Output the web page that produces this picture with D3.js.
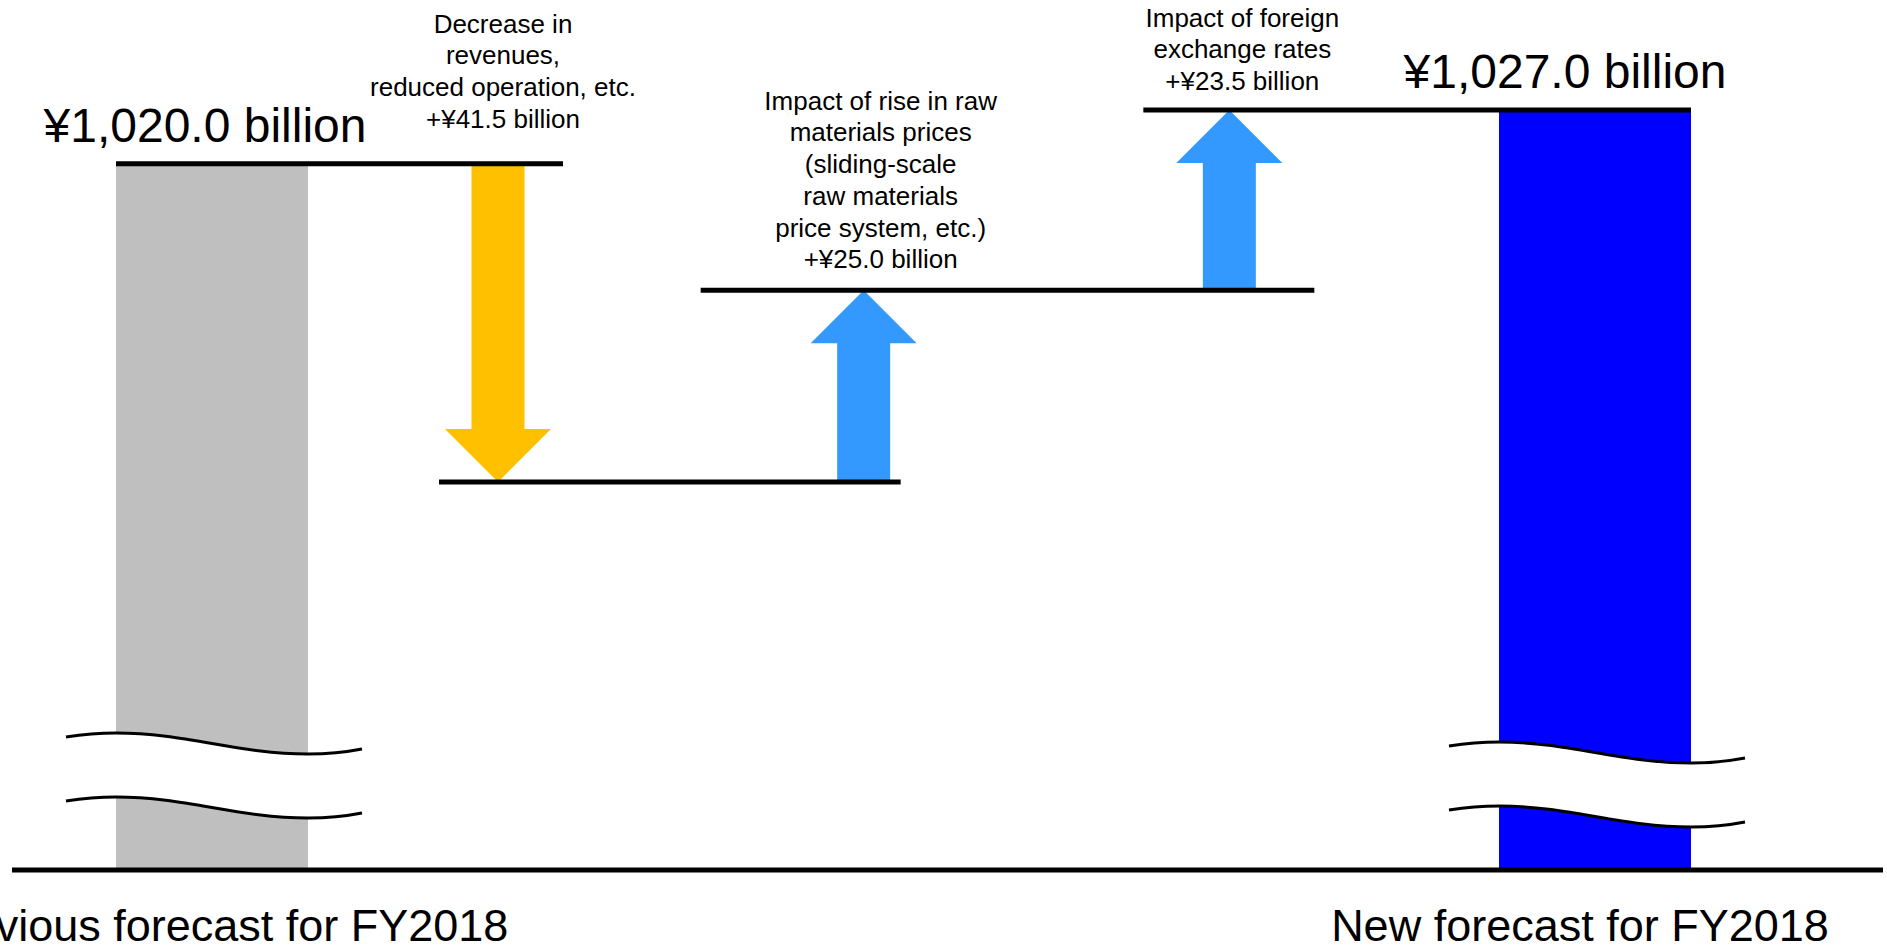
<!DOCTYPE html>
<html>
<head>
<meta charset="utf-8">
<script src="https://cdn.jsdelivr.net/npm/d3@7"></script>
<style>
  html, body { margin: 0; padding: 0; background: #fff; }
  svg { display: block; }
  text { font-family: "Liberation Sans", Arial, sans-serif; fill: #000; }
</style>
</head>
<body>
<svg id="chart" width="1887" height="947"></svg>
<script>
// ---------------- data ----------------
const categories = [
  "Previous forecast for FY2018",
  "Decrease in revenues, reduced operation, etc.",
  "Impact of rise in raw materials prices",
  "Impact of foreign exchange rates",
  "New forecast for FY2018"
];
const stepKinds = ["total", "delta", "delta", "delta", "total"];
const values = [1020.0, -41.5, 25.0, 23.5, 1027.0];   // ¥ billion
const totalLabels = ["¥1,020.0 billion", "¥1,027.0 billion"];
const stepLabels = [
  ["Decrease in", "revenues,", "reduced operation, etc.", "+¥41.5 billion"],
  ["Impact of rise in raw", "materials prices", "(sliding-scale", "raw materials", "price system, etc.)", "+¥25.0 billion"],
  ["Impact of foreign", "exchange rates", "+¥23.5 billion"]
];
const categoryLabels = ["Previous forecast for FY2018", "New forecast for FY2018"];

// ---------------- layout ----------------
const W = 1887, H = 947;
const baseY = 870;
const barW = 192;
const shaftW = 53, headW = 106, headL = 53;
const colors = { total0: "#BFBFBF", total1: "#0000FF", down: "#FFC000", up: "#3399FF" };
// connector extensions (left pad from step i, right pad past step i+1)
const connectorPads = [[96, 65], [59, 37], [163, 85], [86, 96]];
const annotationDx = [5, 17, 13];
const annotationGap = [36, 22, 20];
const totalLabelDx = [-7, -30];
const catLabelDx = [5, -15];
const breakOffsets = [137, 128]; // distance of break above baseline

const svg = d3.select("#chart");
svg.append("rect").attr("width", W).attr("height", H).attr("fill", "#fff");

const x = d3.scaleLinear().domain([0, 1, 4]).range([212, 498, 1595]);
const y = d3.scaleLinear().domain([978.5, 1027]).range([482, 110]);

// running levels
const steps = [];
let level = 0;
values.forEach((v, i) => {
  if (stepKinds[i] === "total") {
    steps.push({ i, kind: "total", start: v, end: v });
    level = v;
  } else {
    steps.push({ i, kind: "delta", start: level, end: level + v, v });
    level = level + v;
  }
});

const gBars = svg.append("g");
const gBreak = svg.append("g");
const gArrows = svg.append("g");
const gLines = svg.append("g");
const gText = svg.append("g");

// total bars
const totals = steps.filter(s => s.kind === "total");
totals.forEach((s, k) => {
  gBars.append("rect")
    .attr("x", x(s.i) - barW / 2)
    .attr("y", y(s.end))
    .attr("width", barW)
    .attr("height", baseY - y(s.end))
    .attr("fill", k === 0 ? colors.total0 : colors.total1);
});

// axis-break marks on the total bars
function waveSegs(c, p) {
  return [
    [[c - 146, p + 4], [c - 130, p + 1.5], [c - 113, p], [c - 96, p]],
    [[c - 96, p], [c - 26, p], [c + 26, p + 21], [c + 96, p + 21]],
    [[c + 96, p + 21], [c + 114, p + 21], [c + 132, p + 19.5], [c + 150, p + 16]]
  ];
}
function wavePath(segs, path, move) {
  if (move) path.moveTo(segs[0][0][0], segs[0][0][1]);
  else path.lineTo(segs[0][0][0], segs[0][0][1]);
  segs.forEach(s => path.bezierCurveTo(s[1][0], s[1][1], s[2][0], s[2][1], s[3][0], s[3][1]));
}
function reverseSegs(segs) {
  return segs.slice().reverse().map(s => [s[3], s[2], s[1], s[0]]);
}
totals.forEach((s, k) => {
  const c = x(s.i);
  const p1 = baseY - breakOffsets[k];
  const p2 = p1 + 64;
  const w1 = waveSegs(c, p1), w2 = waveSegs(c, p2);
  const fill = d3.path();
  wavePath(w1, fill, true);
  wavePath(reverseSegs(w2), fill, false);
  fill.closePath();
  gBreak.append("path").attr("d", fill.toString()).attr("fill", "#fff");
  [w1, w2].forEach(w => {
    const pth = d3.path();
    wavePath(w, pth, true);
    gBreak.append("path").attr("d", pth.toString())
      .attr("fill", "none").attr("stroke", "#000").attr("stroke-width", 3);
  });
});

// arrows for deltas
steps.filter(s => s.kind === "delta").forEach(s => {
  const c = x(s.i);
  const up = s.end > s.start;
  const y0 = y(s.start), y1 = y(s.end);
  const dir = up ? 1 : -1; // head base is below tip for up arrows
  const hb = y1 + dir * headL;
  const pts = [
    [c - shaftW / 2, y0], [c - shaftW / 2, hb], [c - headW / 2, hb],
    [c, y1], [c + headW / 2, hb], [c + shaftW / 2, hb], [c + shaftW / 2, y0]
  ];
  gArrows.append("path")
    .attr("d", d3.line()(pts) + "Z")
    .attr("fill", up ? colors.up : colors.down);
});

// connector level lines
for (let k = 0; k < steps.length - 1; k++) {
  const lv = steps[k].end;
  gLines.append("line")
    .attr("x1", x(k) - connectorPads[k][0])
    .attr("x2", x(k + 1) + connectorPads[k][1])
    .attr("y1", y(lv)).attr("y2", y(lv))
    .attr("stroke", "#000").attr("stroke-width", 5);
}

// baseline
gLines.append("line")
  .attr("x1", 12).attr("x2", W - 4)
  .attr("y1", baseY).attr("y2", baseY)
  .attr("stroke", "#000").attr("stroke-width", 5);

// total value labels
totals.forEach((s, k) => {
  gText.append("text")
    .attr("x", x(s.i) + totalLabelDx[k])
    .attr("y", y(s.end) - 22)
    .attr("text-anchor", "middle")
    .style("font-size", "48px")
    .text(totalLabels[k]);
});

// category labels
totals.forEach((s, k) => {
  gText.append("text")
    .attr("x", x(s.i) + catLabelDx[k])
    .attr("y", 941)
    .attr("text-anchor", "middle")
    .style("font-size", "45px")
    .text(categoryLabels[k]);
});

// step annotations
const lineH = 31.7;
steps.filter(s => s.kind === "delta").forEach((s, k) => {
  const lines = stepLabels[k];
  const bottom = y(Math.max(s.start, s.end)) - annotationGap[k];
  const t = gText.append("text")
    .attr("text-anchor", "middle")
    .style("font-size", "26px");
  lines.forEach((ln, j) => {
    t.append("tspan")
      .attr("x", x(s.i) + annotationDx[k])
      .attr("y", bottom - (lines.length - 1 - j) * lineH)
      .text(ln);
  });
});
</script>
</body>
</html>
